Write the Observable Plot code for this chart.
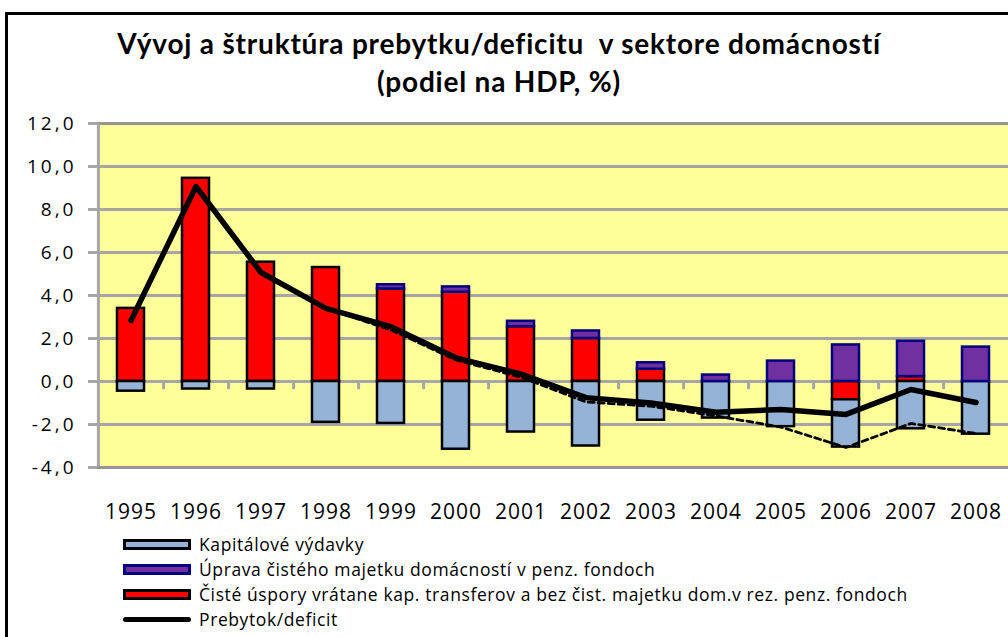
<!DOCTYPE html>
<html>
<head>
<meta charset="utf-8">
<script src="https://cdn.jsdelivr.net/npm/d3@7"></script>
<script src="https://cdn.jsdelivr.net/npm/@observablehq/plot@0.6"></script>
<style>
  html, body { margin: 0; padding: 0; width: 1008px; height: 637px; overflow: hidden; background: #fff; }
  #page { position: relative; width: 1008px; height: 637px; overflow: hidden; }
  #frame { position: absolute; left: 5px; top: 12px; width: 1003px; height: 625px; border: 3px solid #000; border-right: none; border-bottom: none; box-sizing: border-box; }
  .title { position: absolute; left: 0; width: 998px; text-align: center; font-family: Lato, sans-serif; font-weight: bold; font-size: 28px; letter-spacing: 0.8px; color: #000; }
  #chart { position: absolute; left: 0; top: 100px; width: 1008px; height: 430px; overflow: hidden; }
  #chart svg { max-width: none !important; }
  .leg { position: absolute; font-family: "Open Sans", sans-serif; font-size: 17.5px; letter-spacing: 0.6px; color: #000; line-height: 22px; white-space: nowrap; }
  .sw { position: absolute; box-sizing: border-box; width: 68px; height: 11px; border: 3px solid #000; }
  .ln { position: absolute; width: 68px; height: 5px; border-radius: 3px; background: #000; }
  g[aria-label="y-axis tick label"] text { letter-spacing: 3px; }
  g[aria-label="x-axis tick label"] text { letter-spacing: 1px; }
</style>
</head>
<body>
<div id="page">
<div id="frame"></div>
<div class="title" style="top:26px">Vývoj a štruktúra prebytku/deficitu&nbsp; v sektore domácností</div>
<div class="title" style="top:64px">(podiel na HDP, %)</div>
<div id="chart"></div>
<div id="legend"></div>
</div>
<script>
// ---- data ----
const years = [1995, 1996, 1997, 1998, 1999, 2000, 2001, 2002, 2003, 2004, 2005, 2006, 2007, 2008];
const kapitaloveVydavky = [-0.45, -0.35, -0.35, -1.9, -1.95, -3.15, -2.35, -3.0, -1.8, -1.7, -2.1, -2.2, -2.2, -2.45];
const upravaMajetku = [0, 0, 0, 0, 0.2, 0.25, 0.25, 0.35, 0.3, 0.3, 0.95, 1.7, 1.64, 1.6];
const cisteUspory = [3.4, 9.45, 5.55, 5.3, 4.3, 4.15, 2.55, 2.0, 0.57, 0, 0, -0.85, 0.23, 0];
const prebytokDeficit = [2.84, 9.07, 5.07, 3.4, 2.55, 1.1, 0.35, -0.75, -1.0, -1.43, -1.3, -1.53, -0.37, -0.98];
const bezUpravy = [2.84, 9.07, 5.07, 3.4, 2.4, 1.0, 0.2, -0.95, -1.15, -1.6, -2.12, -3.07, -1.95, -2.42];
const yTicks = [-4, -2, 0, 2, 4, 6, 8, 10, 12];

const seriesNames = [
  "Čisté úspory vrátane kap. transferov a bez čist. majetku dom.v rez. penz. fondoch",
  "Úprava čistého majetku domácností v penz. fondoch",
  "Kapitálové výdavky"
];
const seriesValues = [cisteUspory, upravaMajetku, kapitaloveVydavky];
const fills = ["#FF0000", "#7030A0", "#95B3D7"];
const strokes = ["#000000", "#000080", "#000000"];
const lineName = "Prebytok/deficit";

// ---- tables built from the arrays ----
const bars = [];
[0, 2, 1].forEach(s => {
  years.forEach((yr, i) => {
    const v = seriesValues[s][i];
    if (v !== 0) bars.push({year: yr, value: v, series: seriesNames[s], fill: fills[s], stroke: strokes[s]});
  });
});
const lineData = years.map((yr, i) => ({year: yr, value: prebytokDeficit[i]}));
const dashData = years.map((yr, i) => ({year: yr, value: bezUpravy[i]}));

const W = 1020, ML = 97, MR = 10;
const step = (W - ML - MR) / years.length;
const gray = "#A6A6A6";

const chart = Plot.plot({
  width: W,
  height: 430,
  marginLeft: ML,
  marginRight: MR,
  marginTop: 23,
  marginBottom: 63,
  style: {fontFamily: "'Open Sans', sans-serif", color: "#000", background: "transparent", overflow: "visible", maxWidth: "none"},
  x: {type: "band", domain: years, paddingInner: 0.58, paddingOuter: 0.29, label: null},
  y: {domain: [-4, 12], label: null},
  color: {type: "identity"},
  marks: [
    Plot.frame({fill: "#FFFF99"}),
    Plot.gridY(yTicks, {stroke: gray, strokeOpacity: 1, strokeWidth: 3}),
    Plot.ruleY([-4, 12], {stroke: "#959595", strokeWidth: 3}),
    Plot.ruleX([years[0]], {x: d => d, y1: -4, y2: 12, dx: -step / 2, stroke: gray, strokeWidth: 3}),
    Plot.ruleX(years.slice(0, -1), {x: d => d, y1: 0, y2: -0.38, dx: step / 2, stroke: gray, strokeWidth: 3}),
    Plot.axisY(yTicks, {
      label: null, tickSize: 9, tickPadding: 12, stroke: gray, strokeWidth: 3, fontSize: 19,
      tickFormat: d => d.toFixed(1).replace(".", ",")
    }),
    Plot.axisX({anchor: "bottom", label: null, tickSize: 0, tickPadding: 37, fontSize: 21, tickFormat: d => String(d)}),
    Plot.barY(bars, Plot.stackY({
      x: "year", y: "value", z: "series",
      order: seriesNames,
      fill: "fill", stroke: "stroke", strokeWidth: 2.5
    })),
    Plot.line(dashData, {x: "year", y: "value", stroke: "#000", strokeWidth: 2.8, strokeDasharray: "6,4"}),
    Plot.line(lineData, {x: "year", y: "value", stroke: "#000", strokeWidth: 5.5, strokeLinejoin: "round", strokeLinecap: "round"})
  ]
});
document.getElementById("chart").appendChild(chart);

// ---- legend ----
const legend = document.getElementById("legend");
const legendItems = [
  {label: seriesNames[2], fill: fills[2], stroke: strokes[2]},
  {label: seriesNames[1], fill: fills[1], stroke: strokes[1]},
  {label: seriesNames[0], fill: fills[0], stroke: strokes[0]},
  {label: lineName, line: true}
];
const rowY = [544, 569, 594, 619];
legendItems.forEach((it, i) => {
  const cy = rowY[i];
  const sw = document.createElement("div");
  if (it.line) {
    sw.className = "ln";
    sw.style.left = "123px";
    sw.style.top = (cy - 2.5) + "px";
  } else {
    sw.className = "sw";
    sw.style.left = "123px";
    sw.style.top = (cy - 5.5) + "px";
    sw.style.background = it.fill;
    sw.style.borderColor = it.stroke;
  }
  legend.appendChild(sw);
  const t = document.createElement("div");
  t.className = "leg";
  t.style.left = "199px";
  t.style.top = (cy - 11) + "px";
  t.textContent = it.label;
  legend.appendChild(t);
});
</script>
</body>
</html>
